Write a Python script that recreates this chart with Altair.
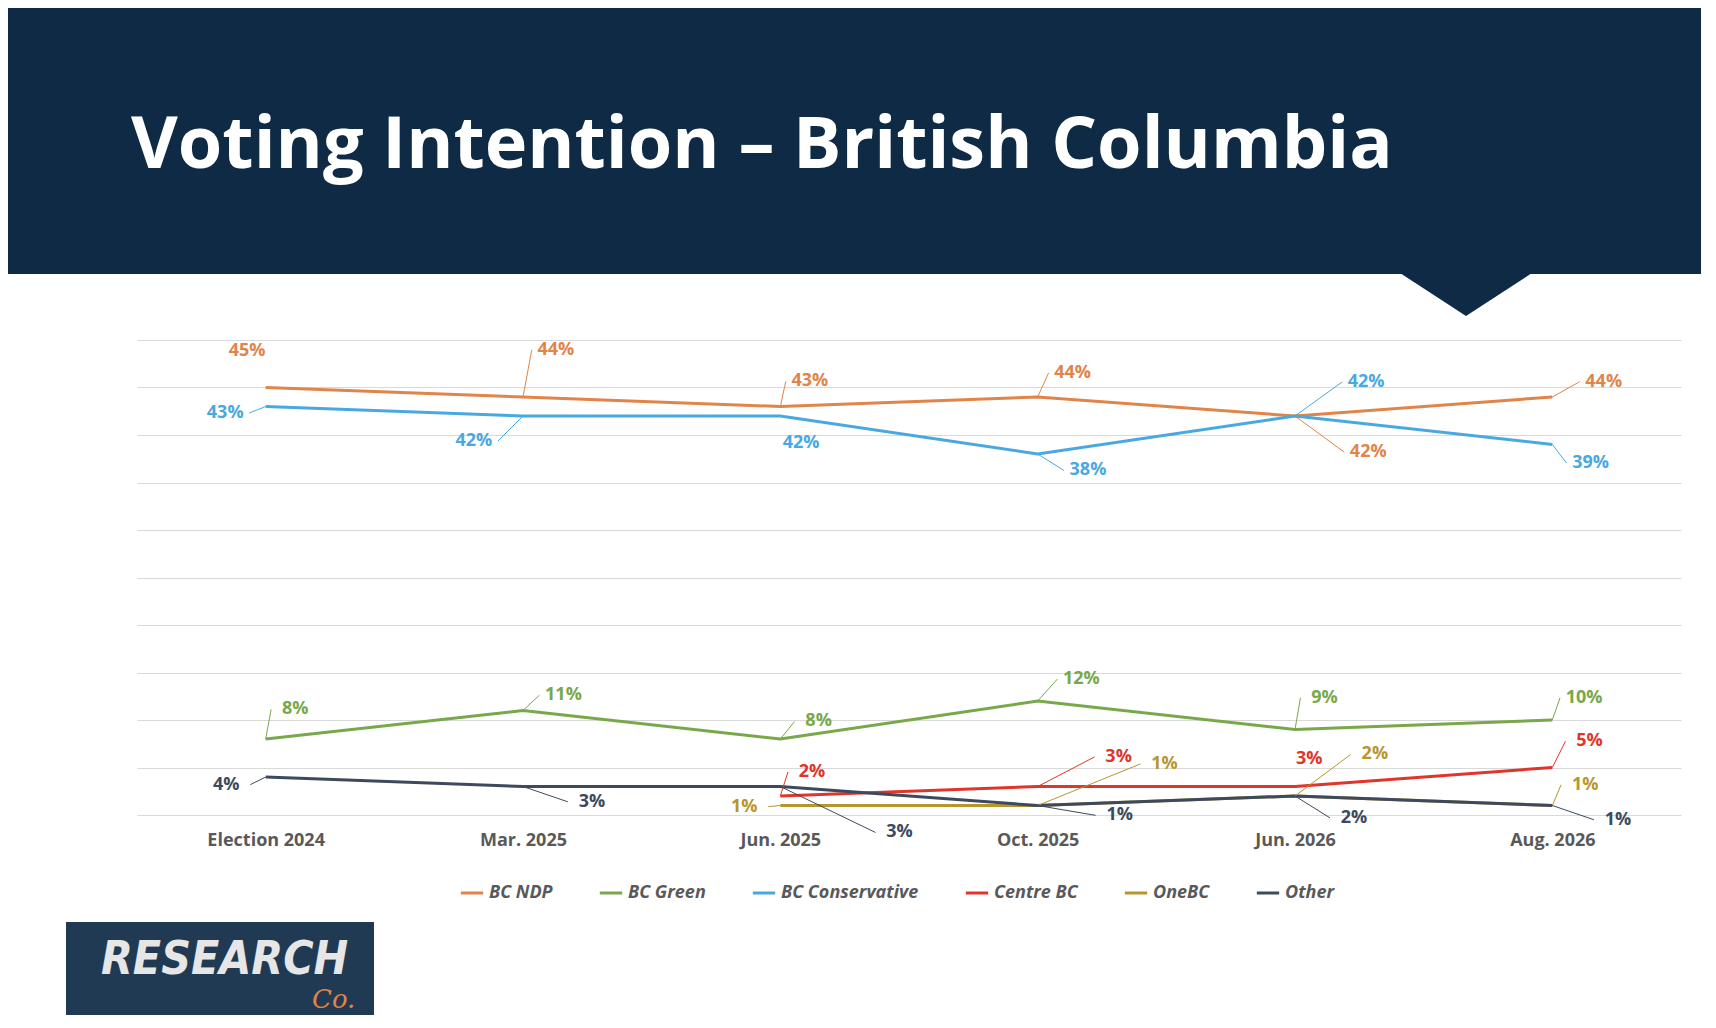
import altair as alt
import pandas as pd

# survey waves and party results (%)
CATEGORIES = ['Election 2024', 'Mar. 2025', 'Jun. 2025', 'Oct. 2025', 'Jun. 2026', 'Aug. 2026']
PARTIES = ['BC NDP', 'BC Green', 'BC Conservative', 'Centre BC', 'OneBC', 'Other']
COLORS = ['#e0844a', '#78a84a', '#4aa8e0', '#e0352a', '#b8962e', '#3d4a5e']

ndp = [45, 44, 43, 44, 42, 44]
green = [8, 11, 8, 12, 9, 10]
conservative = [43, 42, 42, 38, 42, 39]
centre = [None, None, 2, 3, 3, 5]
onebc = [None, None, 1, 1, 2, 1]
other = [4, 3, 3, 1, 2, 1]

# label offsets (px) from each point
label_dx = {
    'BC NDP': [-17, 30, 27, 32, 67, 47],
    'BC Green': [27, 37, 35, 40, 27, 29],
    'BC Conservative': [-37, -45, 19, 46, 65, 35],
    'Centre BC': [0, 0, 29, 74, 13, 34],
    'OneBC': [0, 0, -33, 116, 73, 30],
    'Other': [-36, 63, 109, 75, 54, 60],
}
label_dy = {
    'BC NDP': [-33, -43, -23, -22, 33, -14],
    'BC Green': [-27, -14, -16, -20, -29, -20],
    'BC Conservative': [6, 23, 25, 15, -31, 17],
    'Centre BC': [0, 0, -22, -27, -25, -24],
    'OneBC': [0, 0, 1, -38, -38, -19],
    'Other': [7, 14, 42, 9, 20, 13],
}

W, H = 1544, 475
STEP = 235.3      # reference px per wave
PER_PCT = 8.68    # reference px per percentage point

rows, leaders = [], []
for party, vals in zip(PARTIES, [ndp, green, conservative, centre, onebc, other]):
    for i, v in enumerate(vals):
        if v is None:
            continue
        dx, dy = label_dx[party][i], label_dy[party][i]
        lx, ly = i + dx / STEP, v - dy / PER_PCT
        rows.append({'party': party, 'i': i, 'value': v, 'label': f'{v}%', 'lx': lx, 'ly': ly})
        if abs(dx) > 25:
            ex = dx - (22 if dx > 0 else -22)
            leaders.append({'party': party, 'i': i, 'value': v,
                            'ex': i + ex / STEP, 'ey': ly})
df = pd.DataFrame(rows)
lead = pd.DataFrame(leaders)

cscale = alt.Scale(domain=PARTIES, range=COLORS)
xscale = alt.Scale(domain=[-0.5, 5.5], nice=False, zero=False)
yscale = alt.Scale(domain=[0, 50])
label_expr = 'datum.value == 0 ? "Election 2024" : datum.value == 1 ? "Mar. 2025" : datum.value == 2 ? "Jun. 2025" : datum.value == 3 ? "Oct. 2025" : datum.value == 4 ? "Jun. 2026" : "Aug. 2026"'
x = alt.X('i:Q', title=None, scale=xscale,
          axis=alt.Axis(values=list(range(6)), labelExpr=label_expr, domain=False, ticks=False,
                        grid=False, labelPadding=16, labelFontSize=18, labelFontWeight='bold',
                        labelColor='#595959', labelFont='Open Sans'))
y = alt.Y('value:Q', title=None, scale=yscale,
          axis=alt.Axis(values=list(range(0, 51, 5)), labels=False, ticks=False,
                        domain=False, gridColor='#d9d9d9'))
color = alt.Color('party:N', sort=PARTIES, title=None, scale=cscale,
                  legend=alt.Legend(orient='none', legendX=322, legendY=540,
                                    direction='horizontal', symbolType='stroke',
                                    symbolStrokeWidth=3, symbolSize=500,
                                    labelFontSize=18, labelFontStyle='italic',
                                    labelFontWeight='bold', labelColor='#595959',
                                    labelFont='Open Sans', columnPadding=40))

lines = alt.Chart(df).mark_line(strokeWidth=3).encode(x=x, y=y, color=color)
leader_lines = alt.Chart(lead).mark_rule(strokeWidth=1).encode(
    x=alt.X('i:Q', scale=xscale), y=alt.Y('value:Q', scale=yscale),
    x2='ex:Q', y2='ey:Q',
    color=alt.Color('party:N', scale=cscale, legend=None))
labels = alt.Chart(df).mark_text(fontSize=18, fontWeight='bold', font='Open Sans').encode(
    x=alt.X('lx:Q', scale=xscale), y=alt.Y('ly:Q', scale=yscale),
    color=alt.Color('party:N', scale=cscale, legend=None),
    text='label:N')

deco = alt.Chart(pd.DataFrame({'a': [0]}))
header = deco.mark_rect(color='#0f2a44', clip=False).encode(
    x=alt.value(-140), x2=alt.value(W + 40), y=alt.value(-340), y2=alt.value(-66))
chevron = deco.mark_point(shape='M -1 0 L 0 0.65 L 1 0 Z', filled=True, opacity=1,
                          color='#0f2a44', size=17424).encode(
    x=alt.value(1329), y=alt.value(-67))
title = deco.mark_text(text='Voting Intention – British Columbia', color='white',
                       fontSize=72, fontWeight='bold', font='Open Sans',
                       align='left', baseline='alphabetic').encode(
    x=alt.value(-6), y=alt.value(-172))
logo = deco.mark_rect(color='#1f3a52').encode(
    x=alt.value(-71), x2=alt.value(237), y=alt.value(582), y2=alt.value(677))
logo_text = deco.mark_text(text='RESEARCH', color='#e6e6e6', fontSize=46,
                           fontWeight='bold', fontStyle='italic', font='DejaVu Sans Condensed',
                           align='left').encode(x=alt.value(-36), y=alt.value(620))
logo_co = deco.mark_text(text='Co.', color='#e0844a', fontSize=26, fontStyle='italic',
                         font='DejaVu Serif', align='left').encode(x=alt.value(175), y=alt.value(660))

chart = alt.layer(header, chevron, title, lines, leader_lines, labels,
                  logo, logo_text, logo_co).properties(
    width=W, height=H,
    background='white',
    autosize=alt.AutoSizeParams(type='none'),
    padding={'left': 129, 'top': 332, 'right': 20, 'bottom': 200},
).configure_view(stroke='transparent', strokeWidth=0)

chart.save("out.html", embed_options={"renderer": "svg", "actions": False})
